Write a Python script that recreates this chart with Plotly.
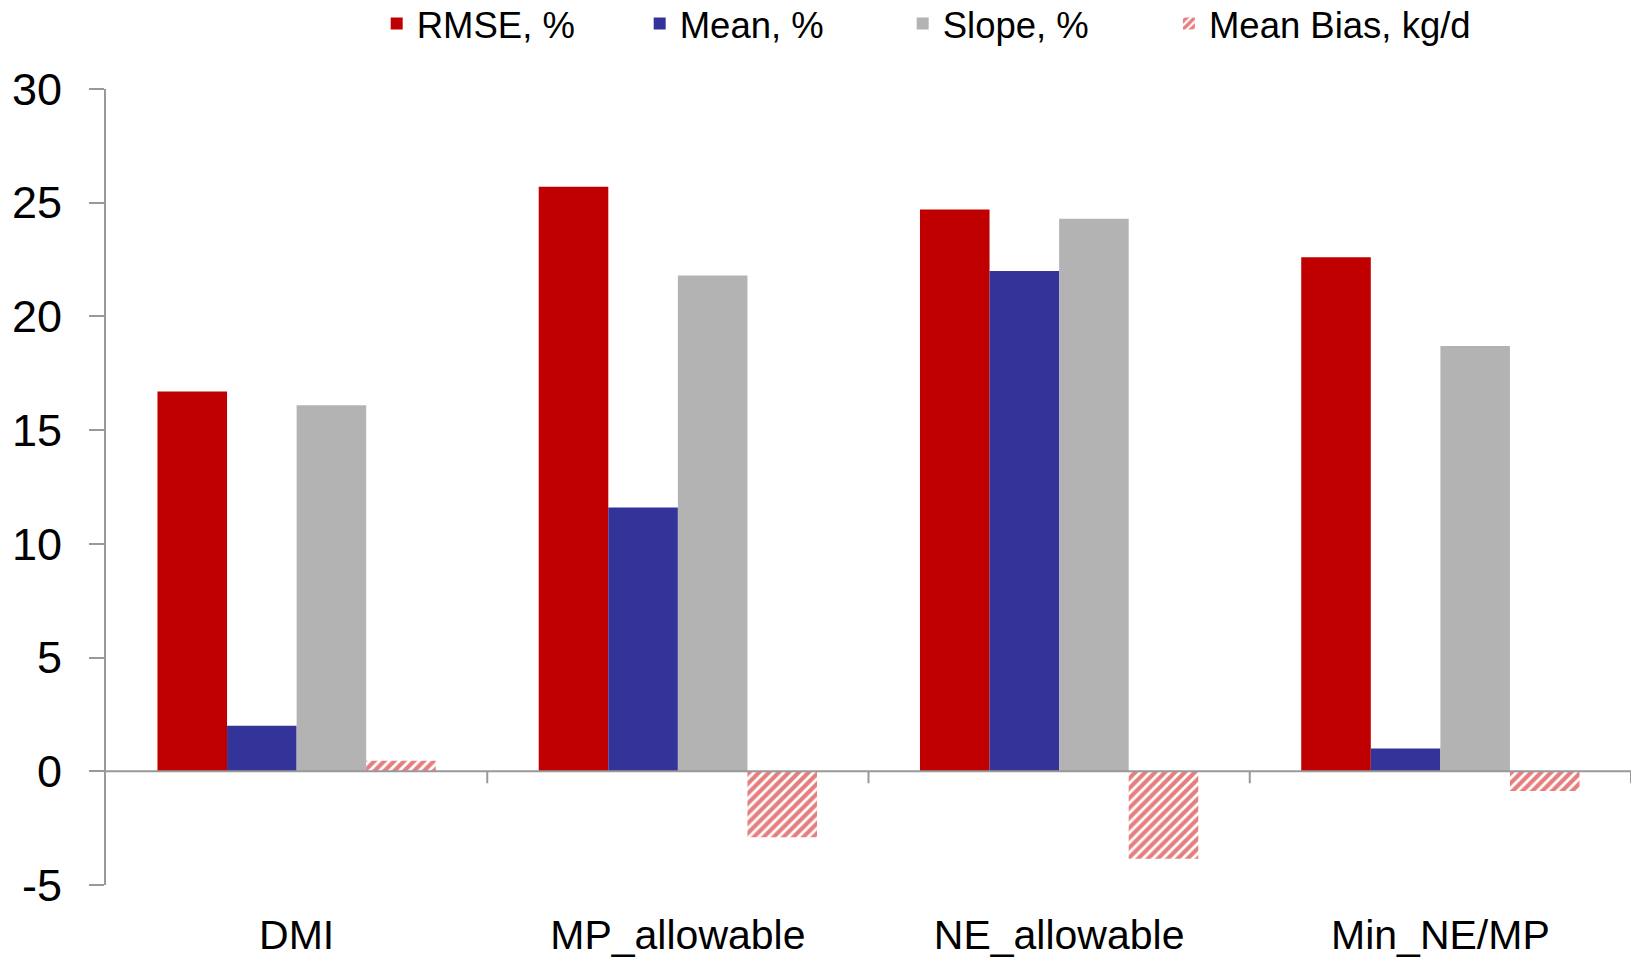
import plotly.graph_objects as go

categories = ["DMI", "MP_allowable", "NE_allowable", "Min_NE/MP"]
rmse_pct = [16.7, 25.7, 24.7, 22.6]
mean_pct = [2.0, 11.6, 22.0, 1.0]
slope_pct = [16.1, 21.8, 24.3, 18.7]
mean_bias_kgd = [0.46, -2.9, -3.85, -0.87]
y_ticks = [-5, 0, 5, 10, 15, 20, 25, 30]
y_tick_text = ["-5", "0", "5", "10", "15", "20", "25", "30"]

FONT = "Liberation Sans, Arial, sans-serif"
AXIS_GREY = "#999999"

fig = go.Figure()
fig.add_trace(go.Bar(name="RMSE, %", x=categories, y=rmse_pct,
                     marker=dict(color="#C00000", line=dict(width=0))))
fig.add_trace(go.Bar(name="Mean, %", x=categories, y=mean_pct,
                     marker=dict(color="#333399", line=dict(width=0))))
fig.add_trace(go.Bar(name="Slope, %", x=categories, y=slope_pct,
                     marker=dict(color="#B3B3B3", line=dict(width=0))))
fig.add_trace(go.Bar(name="Mean Bias, kg/d", x=categories, y=mean_bias_kgd,
                     legend="legend2",
                     marker=dict(color="white", line=dict(width=0),
                                 pattern=dict(shape="/", fgcolor="#CC0000",
                                              bgcolor="white", size=7,
                                              solidity=0.6))))

# horizontal axis line at y = 0 with ticks between the categories
shapes = [dict(type="line", xref="paper", yref="y", x0=0, x1=1, y0=0, y1=0,
               line=dict(color=AXIS_GREY, width=2), layer="above")]
for i in range(len(categories)):
    shapes.append(dict(type="line", xref="x", yref="y", ysizemode="pixel",
                       yanchor=0, x0=i + 0.5, x1=i + 0.5, y0=0, y1=-12,
                       line=dict(color=AXIS_GREY, width=2)))

legend_common = dict(orientation="h", y=1.082, yanchor="middle",
                     font=dict(size=36.5, family=FONT), traceorder="normal",
                     bgcolor="rgba(0,0,0,0)")

fig.update_layout(
    width=1636, height=961,
    margin=dict(l=106, r=5, t=89, b=76, autoexpand=False),
    paper_bgcolor="white", plot_bgcolor="white",
    barmode="group", bargap=0.27, bargroupgap=0,
    font=dict(family=FONT, color="black"),
    shapes=shapes,
    legend=dict(**legend_common, x=0.1775, xanchor="left", entrywidth=218),
    legend2=dict(**legend_common, x=0.697, xanchor="left"),
    xaxis=dict(showline=False, ticks="", showgrid=False, zeroline=False,
               tickfont=dict(size=41, family=FONT), ticklabelstandoff=22,
               range=[-0.5, 3.5]),
    yaxis=dict(range=[-5, 30], tickvals=y_ticks, ticktext=y_tick_text,
               showgrid=False, zeroline=False,
               showline=True, linecolor=AXIS_GREY, linewidth=2,
               ticks="outside", ticklen=15, tickwidth=2, tickcolor=AXIS_GREY,
               tickfont=dict(size=45, family=FONT), ticklabelstandoff=18),
)

fig.write_html("out.html")
